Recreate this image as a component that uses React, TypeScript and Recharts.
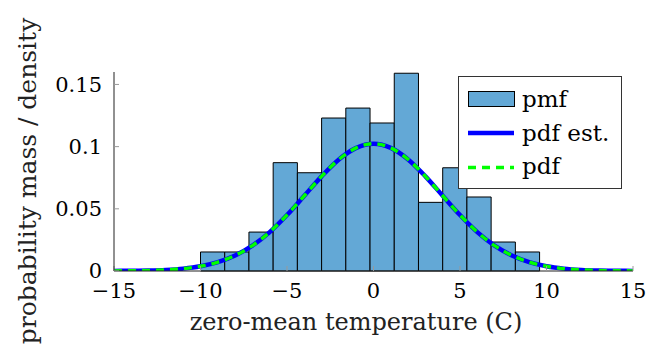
import React from 'react';
import {
  ComposedChart,
  Line,
  XAxis,
  YAxis,
  ReferenceArea,
  Legend,
} from 'recharts';

// histogram bins (left edges) and pmf heights
const binStart = -10;
const binWidth = 1.4;
const pmf = [
  0.0153, 0.0153, 0.0313, 0.0871, 0.079, 0.123, 0.131, 0.119, 0.159, 0.0552,
  0.083, 0.0595, 0.0233, 0.0153,
];

// curve sample positions and values
const curveX = [
  -15, -14, -13, -12, -11, -10, -9, -8, -7, -6, -5, -4, -3, -2, -1, 0, 1, 2, 3,
  4, 5, 6, 7, 8, 9, 10, 11, 12, 13, 14, 15,
];
const pdfEst = [
  0.0001, 0.0002, 0.0004, 0.0009, 0.0019, 0.0038, 0.0071, 0.0125, 0.0204,
  0.0313, 0.045, 0.0605, 0.0761, 0.0897, 0.099, 0.1023, 0.099, 0.0897, 0.0761,
  0.0605, 0.045, 0.0313, 0.0204, 0.0125, 0.0071, 0.0038, 0.0019, 0.0009,
  0.0004, 0.0002, 0.0001,
];
const pdf = [
  0.0001, 0.0002, 0.0004, 0.0009, 0.0019, 0.0038, 0.0071, 0.0125, 0.0204,
  0.0313, 0.045, 0.0605, 0.0761, 0.0897, 0.099, 0.1023, 0.099, 0.0897, 0.0761,
  0.0605, 0.045, 0.0313, 0.0204, 0.0125, 0.0071, 0.0038, 0.0019, 0.0009,
  0.0004, 0.0002, 0.0001,
];

const xTicks = [-15, -10, -5, 0, 5, 10, 15];
const yTicks = [0, 0.05, 0.1, 0.15];
const xLabel = 'zero-mean temperature (C)';
const yLabel = 'probability mass / density';
const legendNames = ['pmf', 'pdf est.', 'pdf'];

const BAR_FILL = '#63a8d6';
const BLUE = '#0000ff';
const GREEN = '#00ff00';
const FONT = 'DejaVu Serif';

const pdfEstData = curveX.map((x, i) => ({ x, y: pdfEst[i] }));
const pdfData = curveX.map((x, i) => ({ x, y: pdf[i] }));
const bins = pmf.map((v, i) => ({
  x1: binStart + i * binWidth,
  x2: binStart + (i + 1) * binWidth,
  v,
}));

const fmtX = (v: number) => (v < 0 ? '\u2212' + Math.abs(v) : String(v));

const renderLegend = () => (
  <svg width={164} height={113} style={{ display: 'block' }}>
    <rect x={0.5} y={0.5} width={163} height={112} fill="#fff" stroke="#333" strokeWidth={1} />
    <rect x={10.5} y={15.5} width={46} height={15} fill={BAR_FILL} stroke="#000" strokeWidth={1} />
    <line x1={10} x2={56} y1={57} y2={57} stroke={BLUE} strokeWidth={4.5} />
    <line x1={10} x2={56} y1={91.5} y2={91.5} stroke={GREEN} strokeWidth={3.5} strokeDasharray="8 6" />
    <text x={64} y={31} fontFamily={FONT} fontSize={23} fill="#000">{legendNames[0]}</text>
    <text x={64} y={64.5} fontFamily={FONT} fontSize={23} fill="#000">{legendNames[1]}</text>
    <text x={64} y={98} fontFamily={FONT} fontSize={23} fill="#000">{legendNames[2]}</text>
  </svg>
);

export default function App() {
  const tickStyle = { fontFamily: FONT, fontSize: 21, fill: '#000' };
  return (
    <div style={{ position: 'absolute', left: 0, top: 0, width: 647, height: 354, background: '#fff' }}>
      <ComposedChart
        width={647}
        height={354}
        margin={{ top: 72, right: 14, bottom: 0, left: 0 }}
      >
        <XAxis
          xAxisId="x"
          dataKey="x"
          type="number"
          domain={[-15, 15]}
          allowDataOverflow
          ticks={xTicks}
          tickFormatter={fmtX}
          height={83}
          tickSize={-5}
          tickMargin={17}
          axisLine={{ stroke: '#222', strokeWidth: 1 }}
          tickLine={{ stroke: '#999', strokeWidth: 1 }}
          tick={tickStyle}
          interval={0}
          label={() => (
            <text x={356} y={330} textAnchor="middle" fontFamily={FONT} fontSize={24} fill="#222">
              {xLabel}
            </text>
          )}
        />
        <XAxis
          xAxisId="xt"
          orientation="top"
          type="number"
          dataKey="x"
          domain={[-15, 15]}
          allowDataOverflow
          ticks={xTicks}
          tickFormatter={() => ''}
          height={0}
          tickSize={-5}
          axisLine={{ stroke: '#222', strokeWidth: 1 }}
          tickLine={{ stroke: '#999', strokeWidth: 1 }}
          interval={0}
        />
        <YAxis
          yAxisId="y"
          type="number"
          domain={[0, 0.16]}
          allowDataOverflow
          ticks={yTicks}
          width={114}
          tickSize={-5}
          tickMargin={17}
          axisLine={{ stroke: '#222', strokeWidth: 1 }}
          tickLine={{ stroke: '#999', strokeWidth: 1 }}
          tick={tickStyle}
          interval={0}
          label={() => (
            <text
              transform="translate(36,181) rotate(-90)"
              textAnchor="middle"
              fontFamily={FONT}
              fontSize={25}
              fill="#222"
            >
              {yLabel}
            </text>
          )}
        />
        <YAxis
          yAxisId="yr"
          orientation="right"
          type="number"
          domain={[0, 0.16]}
          allowDataOverflow
          ticks={yTicks}
          width={0}
          tickSize={-5}
          tickFormatter={() => ''}
          axisLine={{ stroke: '#222', strokeWidth: 1 }}
          tickLine={{ stroke: '#999', strokeWidth: 1 }}
          interval={0}
        />
        {bins.map((b, i) => (
          <ReferenceArea
            key={i}
            xAxisId="x"
            yAxisId="y"
            x1={b.x1}
            x2={b.x2}
            y1={0}
            y2={b.v}
            fill={BAR_FILL}
            fillOpacity={1}
            stroke="#000"
            strokeWidth={1}
            ifOverflow="visible"
          />
        ))}
        <Line
          xAxisId="x"
          yAxisId="y"
          data={pdfEstData}
          dataKey="y"
          name={legendNames[1]}
          type="monotone"
          stroke={BLUE}
          strokeWidth={4.5}
          dot={false}
          activeDot={false}
          isAnimationActive={false}
        />
        <Line
          xAxisId="x"
          yAxisId="y"
          data={pdfData}
          dataKey="y"
          name={legendNames[2]}
          type="monotone"
          stroke={GREEN}
          strokeWidth={3.5}
          strokeDasharray="8 6"
          dot={false}
          activeDot={false}
          isAnimationActive={false}
        />
        <Legend
          layout="horizontal"
          verticalAlign="middle"
          align="center"
          content={renderLegend}
          wrapperStyle={{ position: 'absolute', left: 458, top: 76, width: 164, height: 113 }}
        />
      </ComposedChart>
    </div>
  );
}
